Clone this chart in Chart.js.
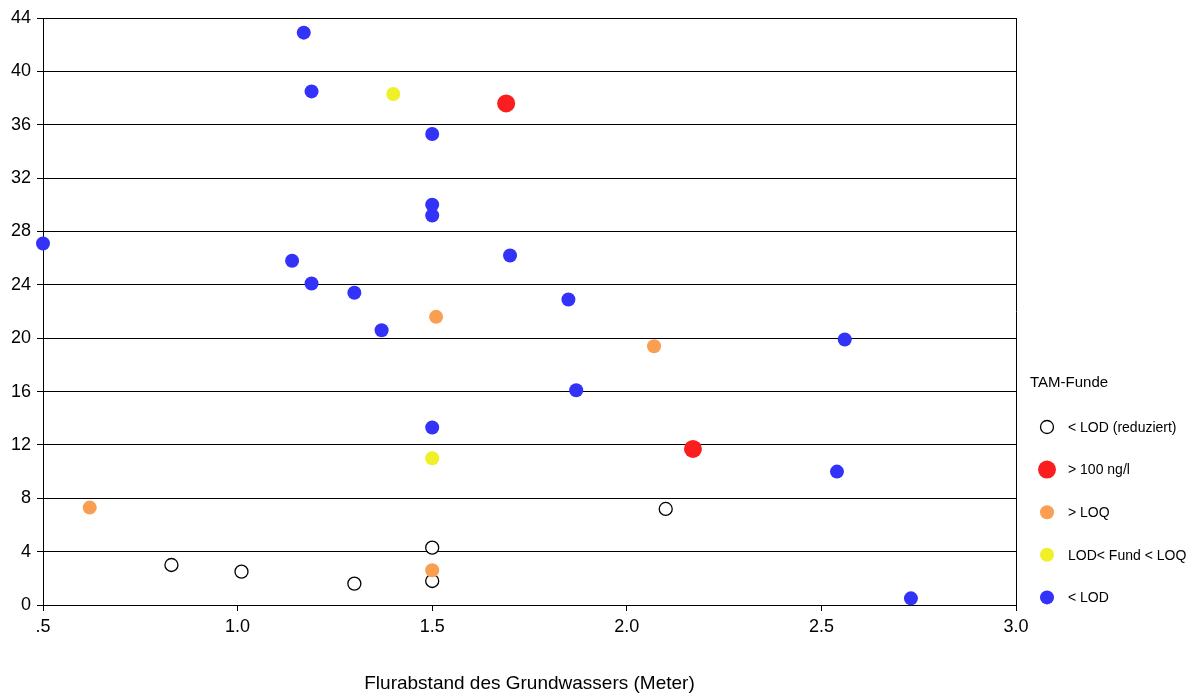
<!DOCTYPE html>
<html>
<head>
<meta charset="utf-8">
<script src="https://cdn.jsdelivr.net/npm/chart.js@4"></script>
<style>
  html, body { margin: 0; padding: 0; background: #fff; }
  #wrap { width: 1198px; height: 693px; }
</style>
</head>
<body>
<div id="wrap"><canvas id="chart" width="1198" height="693"></canvas></div>
<script>
// Flurabstand (m) / Tiefe pro Fundklasse
const blueX = [1.17, 1.19, 1.50, 1.50, 1.50, 0.50, 1.70, 1.14, 1.19, 1.30, 1.85, 1.37, 2.56, 1.87, 1.50, 2.54, 2.73];
const blueY = [42.9, 38.5, 35.3, 30.0, 29.2, 27.1, 26.2, 25.8, 24.1, 23.4, 22.9, 20.6, 19.9, 16.1, 13.3, 10.0, 0.5];
const yellowX = [1.40, 1.50];
const yellowY = [38.3, 11.0];
const orangeX = [1.51, 2.07, 0.62, 1.50];
const orangeY = [21.6, 19.4, 7.3, 2.6];
const redX = [1.69, 2.17];
const redY = [37.6, 11.7];
const whiteX = [0.83, 1.01, 1.30, 1.50, 1.50, 2.10];
const whiteY = [3.0, 2.5, 1.6, 4.3, 1.8, 7.2];

const seriesNames = ['< LOD', 'LOD< Fund < LOQ', '> LOQ', '> 100 ng/l', '< LOD (reduziert)'];
const legendTitle = 'TAM-Funde';
const xTitle = 'Flurabstand des Grundwassers (Meter)';

function toPoints(xs, ys) {
    return xs.map((x, i) => ({ x: x, y: ys[i] }));
}

const styles = [
    { bg: 'rgb(50, 50, 248)', border: 'rgb(50, 50, 248)', r: 7, bw: 0 },
    { bg: 'rgb(240, 240, 40)', border: 'rgb(240, 240, 40)', r: 7, bw: 0 },
    { bg: 'rgb(250, 158, 82)', border: 'rgb(250, 158, 82)', r: 7, bw: 0 },
    { bg: 'rgb(250, 30, 30)', border: 'rgb(250, 30, 30)', r: 9, bw: 0 },
    { bg: '#ffffff', border: '#000000', r: 6.5, bw: 1.3 }
];

const seriesData = [
    toPoints(blueX, blueY),
    toPoints(yellowX, yellowY),
    toPoints(orangeX, orangeY),
    toPoints(redX, redY),
    toPoints(whiteX, whiteY)
];

const datasets = seriesData.map((pts, i) => ({
    label: seriesNames[i],
    data: pts,
    pointStyle: 'circle',
    pointRadius: styles[i].r,
    pointHoverRadius: styles[i].r,
    pointBackgroundColor: styles[i].bg,
    pointBorderColor: styles[i].border,
    pointBorderWidth: styles[i].bw,
    showLine: false,
    clip: false
}));

// Legende rechts, in umgekehrter Reihenfolge wie im Original
const legendPlugin = {
    id: 'tamLegend',
    afterDraw(chart) {
        const ctx = chart.ctx;
        ctx.save();
        ctx.fillStyle = '#000';
        ctx.textBaseline = 'middle';
        ctx.textAlign = 'left';
        ctx.font = '15px "Liberation Sans", Arial, sans-serif';
        ctx.fillText(legendTitle, 1030, 383);
        ctx.font = '14px "Liberation Sans", Arial, sans-serif';
        const order = [4, 3, 2, 1, 0];
        order.forEach((idx, row) => {
            const y = 427 + row * 42.6;
            const s = styles[idx];
            ctx.beginPath();
            ctx.arc(1047, y, s.r, 0, Math.PI * 2);
            ctx.fillStyle = s.bg;
            ctx.fill();
            if (s.bw > 0) {
                ctx.lineWidth = s.bw;
                ctx.strokeStyle = s.border;
                ctx.stroke();
            }
            ctx.fillStyle = '#000';
            ctx.fillText(seriesNames[idx], 1068, y + 1);
        });
        ctx.restore();
    }
};

new Chart(document.getElementById('chart'), {
    type: 'scatter',
    data: { datasets: datasets },
    options: {
        responsive: false,
        animation: false,
        layout: { padding: { top: 18, right: 182, bottom: 0, left: 0 } },
        plugins: {
            legend: { display: false },
            tooltip: { enabled: false }
        },
        scales: {
            x: {
                type: 'linear',
                min: 0.5,
                max: 3.0,
                afterFit: scale => { scale.height = 88; },
                ticks: {
                    stepSize: 0.5,
                    color: '#000',
                    padding: 5,
                    font: { family: '"Liberation Sans", Arial, sans-serif', size: 18 },
                    callback: v => v === 0.5 ? '.5' : v.toFixed(1)
                },
                grid: {
                    color: c => (c.tick && c.tick.value === 3) ? '#000' : 'rgba(0,0,0,0)',
                    tickColor: '#000',
                    tickLength: 6,
                    lineWidth: 1
                },
                border: { color: '#000', width: 1 },
                title: {
                    display: true,
                    text: xTitle,
                    color: '#000',
                    padding: { top: 0, bottom: -2 },
                    font: { family: '"Liberation Sans", Arial, sans-serif', size: 19 }
                }
            },
            y: {
                type: 'linear',
                min: 0,
                max: 44,
                afterFit: scale => { scale.width = 43; },
                ticks: {
                    stepSize: 4,
                    color: '#000',
                    padding: 6,
                    font: { family: '"Liberation Sans", Arial, sans-serif', size: 18 }
                },
                grid: {
                    color: '#000',
                    tickColor: '#000',
                    tickLength: 6,
                    lineWidth: 1
                },
                border: { color: '#000', width: 1 }
            }
        }
    },
    plugins: [legendPlugin]
});
</script>
</body>
</html>
